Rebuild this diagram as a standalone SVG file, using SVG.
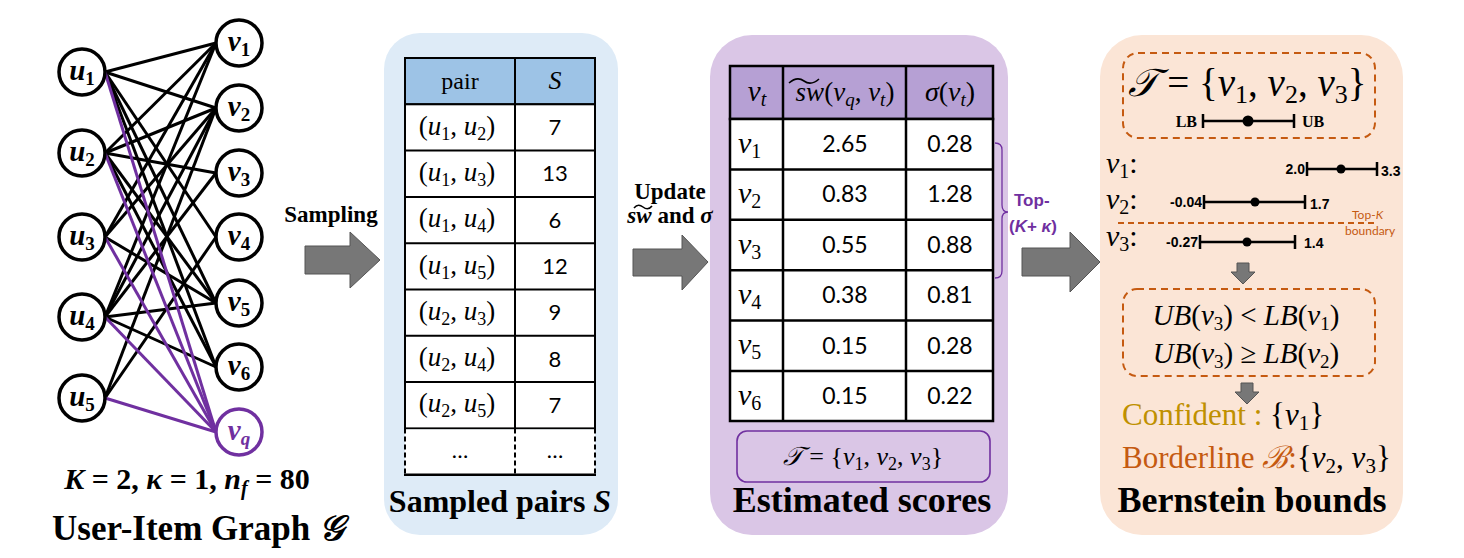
<svg xmlns="http://www.w3.org/2000/svg" width="1464" height="558" viewBox="0 0 1464 558">
<style>
.node{fill:#fff;stroke:#000;stroke-width:3.5}
.nodeq{fill:#fff;stroke:#7030a0;stroke-width:3.5}
.nl{font-family:"Liberation Serif",serif;font-weight:bold;font-style:italic;font-size:29px;text-anchor:middle}
.sb{font-style:normal;font-size:19px}
.e{stroke:#000;stroke-width:3;fill:none}
.ep{stroke:#7030a0;stroke-width:3;fill:none}
.title{font-family:"Liberation Serif",serif;font-weight:bold;font-size:36px;text-anchor:middle}
.lab{font-family:"Liberation Serif",serif;font-weight:bold;font-size:23px;text-anchor:middle}
.m{font-family:"Liberation Serif",serif;font-size:27px;text-anchor:middle}
.i{font-style:italic}
.s{font-size:18px}
.num{font-family:Lato,"Liberation Sans",sans-serif;font-size:22px;text-anchor:middle}
.num2{font-family:Lato,"Liberation Sans",sans-serif;font-size:23px;text-anchor:middle}
.arrow{fill:#777;stroke:#555;stroke-width:1}
.dash{fill:none;stroke:#c55a11;stroke-width:2;stroke-dasharray:7 5}
.bar{stroke:#000;stroke-width:2.5;fill:none}
.bn{font-family:"Liberation Sans",sans-serif;font-weight:bold;font-size:14px}
.vl{font-family:"Liberation Serif",serif;font-size:30px}
</style>

<!-- Panels -->
<rect x="384" y="33" width="234" height="502" rx="36" fill="#deebf7"/>
<rect x="710" y="35" width="298" height="500" rx="42" fill="#dac6e6"/>
<rect x="1100" y="35" width="303" height="500" rx="42" fill="#fbe5d6"/>

<!-- Connectors -->
<g id="connectors">
  <line class="e" x1="105" y1="72" x2="216" y2="43"/>
  <line class="e" x1="105" y1="72" x2="216" y2="108"/>
  <line class="e" x1="105" y1="72" x2="216" y2="237"/>
  <line class="e" x1="105" y1="72" x2="216" y2="303"/>
  <line class="e" x1="105" y1="72" x2="216" y2="367"/>
  <line class="e" x1="105" y1="153" x2="216" y2="43"/>
  <line class="e" x1="105" y1="153" x2="216" y2="108"/>
  <line class="e" x1="105" y1="153" x2="216" y2="173"/>
  <line class="e" x1="105" y1="153" x2="216" y2="303"/>
  <line class="e" x1="105" y1="153" x2="216" y2="367"/>
  <line class="e" x1="105" y1="237" x2="216" y2="43"/>
  <line class="e" x1="105" y1="237" x2="216" y2="108"/>
  <line class="e" x1="105" y1="237" x2="216" y2="303"/>
  <line class="e" x1="105" y1="317" x2="216" y2="43"/>
  <line class="e" x1="105" y1="317" x2="216" y2="108"/>
  <line class="e" x1="105" y1="317" x2="216" y2="173"/>
  <line class="e" x1="105" y1="317" x2="216" y2="303"/>
  <line class="e" x1="105" y1="317" x2="216" y2="367"/>
  <line class="e" x1="105" y1="398" x2="216" y2="108"/>
  <line class="e" x1="105" y1="398" x2="216" y2="237"/>
  <line class="ep" x1="105" y1="72" x2="216" y2="432"/>
  <line class="ep" x1="105" y1="153" x2="216" y2="432"/>
  <line class="ep" x1="105" y1="237" x2="216" y2="432"/>
  <line class="ep" x1="105" y1="317" x2="216" y2="432"/>
  <line class="ep" x1="105" y1="398" x2="216" y2="432"/>
  <!-- block arrows -->
  <polygon class="arrow" points="305,246 350,246 350,232 380,260 350,288 350,274 305,274"/>
  <polygon class="arrow" points="633,249 682,249 682,235 708,262 682,290 682,276 633,276"/>
  <polygon class="arrow" points="1022,248 1070,248 1070,232 1100,262 1070,292 1070,276 1022,276"/>
  <polygon class="arrow" points="1237,263 1249,263 1249,272 1255,272 1243,284 1231,272 1237,272"/>
  <polygon class="arrow" points="1241,383 1253,383 1253,392 1259,392 1247,404 1235,392 1241,392"/>
</g>

<!-- Graph nodes -->
<g id="u1"><circle class="node" cx="82" cy="72" r="23"/><text class="nl" x="82" y="80">u<tspan class="sb" dy="5">1</tspan></text></g>
<g id="u2"><circle class="node" cx="82" cy="153" r="23"/><text class="nl" x="82" y="161">u<tspan class="sb" dy="5">2</tspan></text></g>
<g id="u3"><circle class="node" cx="82" cy="237" r="23"/><text class="nl" x="82" y="245">u<tspan class="sb" dy="5">3</tspan></text></g>
<g id="u4"><circle class="node" cx="82" cy="317" r="23"/><text class="nl" x="82" y="325">u<tspan class="sb" dy="5">4</tspan></text></g>
<g id="u5"><circle class="node" cx="82" cy="398" r="23"/><text class="nl" x="82" y="406">u<tspan class="sb" dy="5">5</tspan></text></g>
<g id="v1"><circle class="node" cx="239" cy="43" r="23"/><text class="nl" x="239" y="51">v<tspan class="sb" dy="5">1</tspan></text></g>
<g id="v2"><circle class="node" cx="239" cy="108" r="23"/><text class="nl" x="239" y="116">v<tspan class="sb" dy="5">2</tspan></text></g>
<g id="v3"><circle class="node" cx="239" cy="173" r="23"/><text class="nl" x="239" y="181">v<tspan class="sb" dy="5">3</tspan></text></g>
<g id="v4"><circle class="node" cx="239" cy="237" r="23"/><text class="nl" x="239" y="245">v<tspan class="sb" dy="5">4</tspan></text></g>
<g id="v5"><circle class="node" cx="239" cy="303" r="23"/><text class="nl" x="239" y="311">v<tspan class="sb" dy="5">5</tspan></text></g>
<g id="v6"><circle class="node" cx="239" cy="367" r="23"/><text class="nl" x="239" y="375">v<tspan class="sb" dy="5">6</tspan></text></g>
<g id="vq"><circle class="nodeq" cx="239" cy="432" r="23"/><text class="nl" x="239" y="440" fill="#7030a0">v<tspan class="sb" style="font-style:italic" dy="5">q</tspan></text></g>

<g id="graph-labels">
  <text x="187" y="489" font-family="Liberation Serif,serif" font-weight="bold" font-size="30" text-anchor="middle"><tspan font-style="italic">K</tspan> = 2, <tspan font-style="italic">κ</tspan> = 1, <tspan font-style="italic">n</tspan><tspan font-style="italic" font-size="20" dy="6">f</tspan><tspan dy="-6"> = 80</tspan></text>
  <text class="title" x="198" y="540" style="font-size:35px">User-Item Graph <tspan font-style="italic">𝒢</tspan></text>
  <text class="lab" x="331" y="222">Sampling</text>
  <text class="lab" x="670" y="199">Update</text>
  <text class="lab" x="670" y="223"><tspan font-style="italic">sw</tspan> and <tspan font-style="italic">σ</tspan></text>
  <path d="M634,208 q4,-5 9,-1 t9,-1" fill="none" stroke="#000" stroke-width="1.6"/>
</g>

<!-- Table 1: sampled pairs -->
<g id="table-sampled">
  <rect x="405" y="58" width="190" height="46.3" fill="#9dc3e6" stroke="#000" stroke-width="2"/>
  <line x1="515" y1="58" x2="515" y2="104.3" stroke="#000" stroke-width="2"/>
  <rect x="405" y="104.3" width="190" height="324.1" fill="#fff" stroke="#000" stroke-width="2"/>
  <g stroke="#000" stroke-width="2">
    <line x1="405" y1="150.6" x2="595" y2="150.6"/>
    <line x1="405" y1="196.9" x2="595" y2="196.9"/>
    <line x1="405" y1="243.2" x2="595" y2="243.2"/>
    <line x1="405" y1="289.5" x2="595" y2="289.5"/>
    <line x1="405" y1="335.8" x2="595" y2="335.8"/>
    <line x1="405" y1="382.1" x2="595" y2="382.1"/>
    <line x1="515" y1="104.3" x2="515" y2="428.4"/>
  </g>
  <rect x="405" y="429.4" width="190" height="45.3" fill="#fff"/>
  <g stroke="#000" stroke-width="2" stroke-dasharray="5 3">
    <line x1="405" y1="428.4" x2="405" y2="474.7"/>
    <line x1="515" y1="428.4" x2="515" y2="474.7"/>
    <line x1="595" y1="428.4" x2="595" y2="474.7"/>
  </g>
  <line x1="404" y1="474.7" x2="596" y2="474.7" stroke="#000" stroke-width="2.5"/>
  <text class="m" x="460" y="89" style="font-size:24px">pair</text>
  <text class="m i" x="555" y="89" style="font-size:26px">S</text>
  <text class="m" x="457" y="135">(<tspan class="i">u</tspan><tspan class="s" dy="5">1</tspan><tspan dy="-5">, </tspan><tspan class="i">u</tspan><tspan class="s" dy="5">2</tspan><tspan dy="-5">)</tspan></text>
  <text class="m" x="457" y="181">(<tspan class="i">u</tspan><tspan class="s" dy="5">1</tspan><tspan dy="-5">, </tspan><tspan class="i">u</tspan><tspan class="s" dy="5">3</tspan><tspan dy="-5">)</tspan></text>
  <text class="m" x="457" y="227">(<tspan class="i">u</tspan><tspan class="s" dy="5">1</tspan><tspan dy="-5">, </tspan><tspan class="i">u</tspan><tspan class="s" dy="5">4</tspan><tspan dy="-5">)</tspan></text>
  <text class="m" x="457" y="274">(<tspan class="i">u</tspan><tspan class="s" dy="5">1</tspan><tspan dy="-5">, </tspan><tspan class="i">u</tspan><tspan class="s" dy="5">5</tspan><tspan dy="-5">)</tspan></text>
  <text class="m" x="457" y="320">(<tspan class="i">u</tspan><tspan class="s" dy="5">2</tspan><tspan dy="-5">, </tspan><tspan class="i">u</tspan><tspan class="s" dy="5">3</tspan><tspan dy="-5">)</tspan></text>
  <text class="m" x="457" y="366">(<tspan class="i">u</tspan><tspan class="s" dy="5">2</tspan><tspan dy="-5">, </tspan><tspan class="i">u</tspan><tspan class="s" dy="5">4</tspan><tspan dy="-5">)</tspan></text>
  <text class="m" x="457" y="412">(<tspan class="i">u</tspan><tspan class="s" dy="5">2</tspan><tspan dy="-5">, </tspan><tspan class="i">u</tspan><tspan class="s" dy="5">5</tspan><tspan dy="-5">)</tspan></text>
  <text class="num" x="555" y="135">7</text>
  <text class="num" x="555" y="181">13</text>
  <text class="num" x="555" y="228">6</text>
  <text class="num" x="555" y="274">12</text>
  <text class="num" x="555" y="320">9</text>
  <text class="num" x="555" y="367">8</text>
  <text class="num" x="555" y="413">7</text>
  <text class="num" x="460" y="458">…</text>
  <text class="num" x="555" y="458">…</text>
  <text class="title" x="500" y="512" style="font-size:32px">Sampled pairs <tspan font-style="italic">S</tspan></text>
</g>

<!-- Table 2: estimated scores -->
<g id="table-estimated">
  <rect x="730" y="66" width="263" height="53" fill="#b6a0d4" stroke="#000" stroke-width="2.5"/>
  <rect x="730" y="119" width="263" height="302" fill="#fff" stroke="#000" stroke-width="2.5"/>
  <g stroke="#000" stroke-width="2.5">
    <line x1="730" y1="169.4" x2="993" y2="169.4"/>
    <line x1="730" y1="219.8" x2="993" y2="219.8"/>
    <line x1="730" y1="270.2" x2="993" y2="270.2"/>
    <line x1="730" y1="320.6" x2="993" y2="320.6"/>
    <line x1="730" y1="371" x2="993" y2="371"/>
    <line x1="783" y1="66" x2="783" y2="421"/>
    <line x1="906" y1="66" x2="906" y2="421"/>
  </g>
  <text class="m" x="757" y="101" style="font-size:29px"><tspan class="i">v</tspan><tspan font-size="20" font-style="italic" dy="5">t</tspan></text>
  <text class="m" x="845" y="101"><tspan class="i">sw</tspan>(<tspan class="i">v</tspan><tspan font-size="19" font-style="italic" dy="5">q</tspan><tspan dy="-5">, </tspan><tspan class="i">v</tspan><tspan font-size="19" font-style="italic" dy="5">t</tspan><tspan dy="-5">)</tspan></text>
  <text class="m" x="950" y="101" style="font-size:28px"><tspan class="i">σ</tspan>(<tspan class="i">v</tspan><tspan font-size="19" font-style="italic" dy="5">t</tspan><tspan dy="-5">)</tspan></text>
  <path d="M789,83 q8,-7 15,-2 t15,-2" fill="none" stroke="#000" stroke-width="1.6"/>
  <g class="vl" font-style="italic">
    <text x="738" y="153">v<tspan font-style="normal" font-size="20" dy="5">1</tspan></text>
    <text x="738" y="203">v<tspan font-style="normal" font-size="20" dy="5">2</tspan></text>
    <text x="738" y="254">v<tspan font-style="normal" font-size="20" dy="5">3</tspan></text>
    <text x="738" y="304">v<tspan font-style="normal" font-size="20" dy="5">4</tspan></text>
    <text x="738" y="354">v<tspan font-style="normal" font-size="20" dy="5">5</tspan></text>
    <text x="738" y="405">v<tspan font-style="normal" font-size="20" dy="5">6</tspan></text>
  </g>
  <text class="num2" x="845" y="152">2.65</text>
  <text class="num2" x="845" y="202">0.83</text>
  <text class="num2" x="845" y="253">0.55</text>
  <text class="num2" x="845" y="303">0.38</text>
  <text class="num2" x="845" y="354">0.15</text>
  <text class="num2" x="845" y="404">0.15</text>
  <text class="num2" x="950" y="152">0.28</text>
  <text class="num2" x="950" y="202">1.28</text>
  <text class="num2" x="950" y="253">0.88</text>
  <text class="num2" x="950" y="303">0.81</text>
  <text class="num2" x="950" y="354">0.28</text>
  <text class="num2" x="950" y="404">0.22</text>
  <rect x="737" y="431" width="253" height="51" rx="10" fill="none" stroke="#7030a0" stroke-width="1.6"/>
  <text class="m" x="863" y="465" style="font-size:26px"><tspan class="i">𝒯</tspan> = {<tspan class="i">v</tspan><tspan class="s" dy="5">1</tspan><tspan dy="-5">, </tspan><tspan class="i">v</tspan><tspan class="s" dy="5">2</tspan><tspan dy="-5">, </tspan><tspan class="i">v</tspan><tspan class="s" dy="5">3</tspan><tspan dy="-5">}</tspan></text>
  <text class="title" x="862" y="512">Estimated scores</text>
  <path d="M995,143 q7,0 7,7 v55 q0,7 6,7 q-6,0 -6,7 v52 q0,7 -7,7" fill="none" stroke="#7030a0" stroke-width="1.3"/>
  <text x="1014" y="206" font-family="Liberation Sans,sans-serif" font-weight="bold" font-size="17" fill="#7030a0">Top-</text>
  <text x="1009" y="232" font-family="Liberation Sans,sans-serif" font-weight="bold" font-size="17" fill="#7030a0">(<tspan font-style="italic">K</tspan>+ <tspan font-style="italic">κ</tspan>)</text>
</g>

<!-- Bernstein bounds -->
<g id="bernstein">
  <rect class="dash" x="1123" y="53" width="252" height="85" rx="15"/>
  <text x="1247" y="96" font-family="Liberation Serif,serif" font-size="39" text-anchor="middle"><tspan font-style="italic">𝒯</tspan> = {<tspan font-style="italic">v</tspan><tspan font-size="26" dy="7">1</tspan><tspan dy="-7">, </tspan><tspan font-style="italic">v</tspan><tspan font-size="26" dy="7">2</tspan><tspan dy="-7">, </tspan><tspan font-style="italic">v</tspan><tspan font-size="26" dy="7">3</tspan><tspan dy="-7">}</tspan></text>
  <text x="1197" y="127" font-family="Liberation Serif,serif" font-weight="bold" font-size="16" text-anchor="end">LB</text>
  <text x="1302" y="127" font-family="Liberation Serif,serif" font-weight="bold" font-size="16">UB</text>
  <path class="bar" d="M1203,121 H1294 M1203,114 V128 M1294,114 V128"/>
  <circle cx="1248" cy="121" r="5.5"/>

  <text class="vl" x="1106" y="173"><tspan font-style="italic">v</tspan><tspan font-size="20" dy="5">1</tspan><tspan dy="-5">:</tspan></text>
  <text class="bn" x="1305" y="174" text-anchor="end">2.0</text>
  <path class="bar" d="M1307,169 H1377 M1307,162 V176 M1377,162 V176"/>
  <circle cx="1341" cy="169" r="4.5"/>
  <text class="bn" x="1381" y="176">3.3</text>

  <text class="vl" x="1106" y="209"><tspan font-style="italic">v</tspan><tspan font-size="20" dy="5">2</tspan><tspan dy="-5">:</tspan></text>
  <text class="bn" x="1202" y="207" text-anchor="end">-0.04</text>
  <path class="bar" d="M1204,202 H1305 M1204,195 V209 M1305,195 V209"/>
  <circle cx="1255" cy="202" r="4.5"/>
  <text class="bn" x="1310" y="209">1.7</text>

  <line x1="1118" y1="223" x2="1375" y2="223" stroke="#c55a11" stroke-width="2" stroke-dasharray="6 4"/>
  <text x="1352" y="219" font-family="Lato,Liberation Sans,sans-serif" font-size="12" fill="#c55a11">Top-<tspan font-style="italic">K</tspan></text>
  <text x="1345" y="235" font-family="Lato,Liberation Sans,sans-serif" font-size="12" fill="#c55a11">boundary</text>

  <text class="vl" x="1106" y="246"><tspan font-style="italic">v</tspan><tspan font-size="20" dy="5">3</tspan><tspan dy="-5">:</tspan></text>
  <text class="bn" x="1198" y="247" text-anchor="end">-0.27</text>
  <path class="bar" d="M1200,242 H1295 M1200,235 V249 M1295,235 V249"/>
  <circle cx="1247" cy="242" r="4.5"/>
  <text class="bn" x="1304" y="248">1.4</text>

  <rect class="dash" x="1123" y="289" width="252" height="87" rx="14"/>
  <text x="1246" y="325" font-family="Liberation Serif,serif" font-size="29" text-anchor="middle"><tspan font-style="italic">UB</tspan>(<tspan font-style="italic">v</tspan><tspan font-size="19" dy="5">3</tspan><tspan dy="-5">) &lt; </tspan><tspan font-style="italic">LB</tspan>(<tspan font-style="italic">v</tspan><tspan font-size="19" dy="5">1</tspan><tspan dy="-5">)</tspan></text>
  <text x="1246" y="363" font-family="Liberation Serif,serif" font-size="29" text-anchor="middle"><tspan font-style="italic">UB</tspan>(<tspan font-style="italic">v</tspan><tspan font-size="19" dy="5">3</tspan><tspan dy="-5">) ≥ </tspan><tspan font-style="italic">LB</tspan>(<tspan font-style="italic">v</tspan><tspan font-size="19" dy="5">2</tspan><tspan dy="-5">)</tspan></text>

  <text x="1122" y="425" font-family="Liberation Serif,serif" font-size="31"><tspan fill="#bf9000">Confident : </tspan>{<tspan font-style="italic">v</tspan><tspan font-size="21" dy="5">1</tspan><tspan dy="-5">}</tspan></text>
  <text x="1122" y="468" font-family="Liberation Serif,serif" font-size="31"><tspan fill="#c55a11">Borderline <tspan font-style="italic">ℬ</tspan>:</tspan>{<tspan font-style="italic">v</tspan><tspan font-size="21" dy="5">2</tspan><tspan dy="-5">, </tspan><tspan font-style="italic">v</tspan><tspan font-size="21" dy="5">3</tspan><tspan dy="-5">}</tspan></text>
  <text class="title" x="1252" y="512">Bernstein bounds</text>
</g>
</svg>
